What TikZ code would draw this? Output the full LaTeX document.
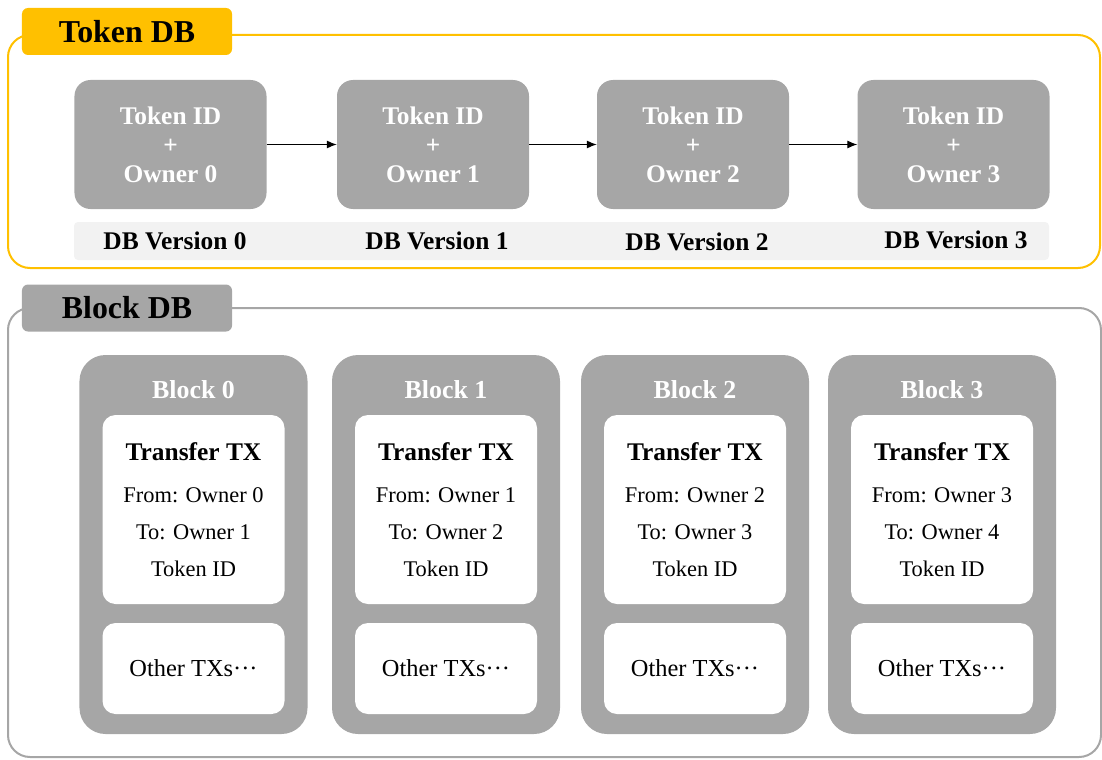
\documentclass[tikz,border=0pt]{standalone}
\usepackage{fontspec}
\setmainfont{Liberation Serif}
\usetikzlibrary{arrows.meta}
\definecolor{tokyellow}{HTML}{FFC000}
\definecolor{boxgray}{HTML}{A6A6A6}
\definecolor{stripgray}{HTML}{F2F2F2}
\newcommand{\fs}[2]{\fontsize{#1}{#2}\selectfont}
\tikzset{
  tabyellow/.style={fill=tokyellow, rounded corners=6bp, minimum width=210bp, minimum height=47bp, inner sep=0pt, font=\fs{32}{36}\bfseries},
  tabgray/.style={fill=boxgray, rounded corners=6bp, minimum width=210bp, minimum height=47bp, inner sep=0pt, font=\fs{32}{36}\bfseries},
  tokbox/.style={fill=boxgray, rounded corners=16bp, minimum width=192bp, minimum height=129bp, inner sep=0pt, text=white, align=center, font=\fs{25.5}{29}\bfseries},
  verlabel/.style={inner sep=0pt, font=\fs{25.5}{28}\bfseries},
  blockbox/.style={fill=boxgray, rounded corners=26bp, minimum width=228bp, minimum height=379bp, inner sep=0pt},
  blocktitle/.style={inner sep=0pt, text=white, font=\fs{26}{28}\bfseries},
  txbox/.style={fill=white, rounded corners=13bp, minimum width=182bp, minimum height=189bp, inner sep=0pt},
  otherbox/.style={fill=white, rounded corners=13bp, minimum width=182bp, minimum height=91bp, inner sep=0pt, font=\fs{24.5}{28}},
  txhead/.style={inner sep=0pt, font=\fs{25.5}{28}\bfseries},
  txline/.style={inner sep=0pt, font=\fs{22.5}{25}},
  flow/.style={draw=black, line width=1bp, -{Latex[length=10bp,width=8bp]}},
}
\begin{document}
\begin{tikzpicture}[x=1bp,y=-1bp]
\useasboundingbox (0,0) rectangle (1102,760);
% ---------- Token DB ----------
\draw[tokyellow, line width=2bp, rounded corners=22bp] (120,35) -- (1100,35) -- (1100,268) -- (8,268) -- (8,35) -- (120,35);
\node[tabyellow] (tokentab) at (127,31.5) {Token DB};

\fill[stripgray, rounded corners=4bp] (74,222) rectangle (1049,260);

\foreach \i/\x in {0/170.5,1/433,2/693,3/953.5}{
  \node[tokbox] (tok\i) at (\x,144.5) {Token ID\\+\\Owner \i};
}
\node[verlabel] (ver0) at (175,241) {DB Version 0};
\node[verlabel] (ver1) at (437,241) {DB Version 1};
\node[verlabel] (ver2) at (697,242) {DB Version 2};
\node[verlabel] (ver3) at (956,240) {DB Version 3};

\draw[flow] (tok0.east) -- (tok1.west);
\draw[flow] (tok1.east) -- (tok2.west);
\draw[flow] (tok2.east) -- (tok3.west);

% ---------- Block DB ----------
\draw[boxgray, line width=2bp, rounded corners=22bp] (120,308) -- (1101,308) -- (1101,757) -- (8,757) -- (8,308) -- (120,308);
\node[tabgray] (blocktab) at (127,308) {Block DB};

\foreach \i/\x in {0/193.5,1/446,2/695,3/942}{
  \node[blockbox] (blk\i) at (\x,544.5) {};
  \node[blocktitle] (blkt\i) at (\x,390) {Block \i};
  \node[txbox] (tx\i) at (\x,509.5) {};
  \node[txhead] (txh\i) at (\x,452) {Transfer TX};
  \pgfmathtruncatemacro{\nx}{\i+1}
  \node[txline] (txf\i) at (\x,495) {From: Owner \i};
  \node[txline] (txt\i) at (\x,532) {To: Owner \nx};
  \node[txline] (txid\i) at (\x,569) {Token ID};
  \node[otherbox] (oth\i) at (\x,668.5) {Other TXs·{}·{}·};
}
\end{tikzpicture}
\end{document}
